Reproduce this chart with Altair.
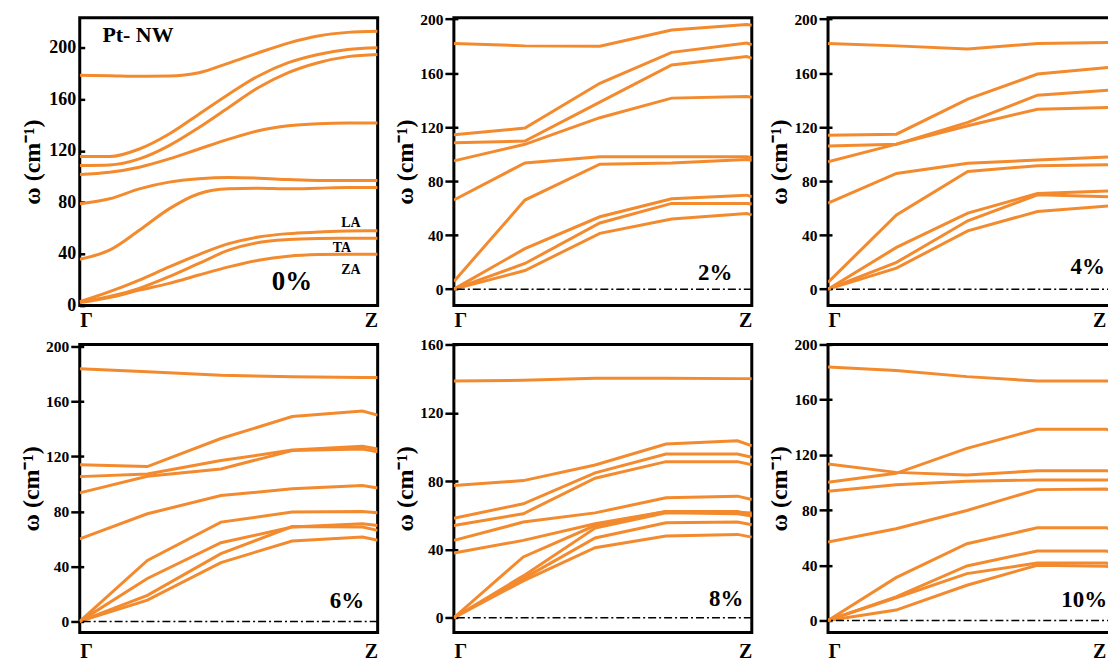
import altair as alt
import pandas as pd

FONT = "Liberation Serif"
ORANGE = "#F38A2E"
YTITLE = "ω (cm⁻¹)"

# ---------------- data ----------------
# 0 % strain: smooth curves, sampled along Γ→Z
X_0 = [0.0, 0.1, 0.2, 0.3, 0.4, 0.5, 0.6, 0.7, 0.8, 0.9, 1.0]
BANDS_0 = [
    [178.5, 178.2, 177.8, 178.0, 180.5, 188.0, 196.0, 203.5, 209.0, 211.8, 212.7],
    [115.5, 115.5, 121.4, 133.0, 148.4, 163.9, 178.0, 188.3, 194.7, 198.6, 199.9],
    [108.6, 109.0, 113.7, 124.0, 138.0, 153.6, 169.0, 180.6, 188.3, 193.0, 194.7],
    [101.6, 103.4, 107.3, 113.7, 121.4, 129.0, 135.6, 139.4, 141.0, 141.5, 141.5],
    [79.0, 82.8, 90.5, 95.7, 98.3, 99.3, 98.8, 97.7, 97.0, 97.0, 97.0],
    [36.0, 43.0, 58.4, 75.0, 86.7, 90.5, 91.0, 90.5, 91.0, 91.6, 91.6],
    [3.0, 10.8, 19.8, 30.0, 39.6, 48.0, 53.2, 55.8, 57.0, 57.9, 58.1],
    [3.0, 7.0, 13.4, 22.4, 32.7, 43.0, 48.9, 51.2, 52.0, 52.2, 52.2],
    [2.3, 6.2, 12.0, 17.2, 23.7, 30.0, 35.2, 38.3, 39.6, 39.9, 39.9],
]

X_2 = [0.0, 0.2385, 0.49, 0.731, 0.983, 1.0]
BANDS_2 = [
    [182.0, 180.2, 180.0, 192.0, 196.0, 195.5],
    [114.4, 119.3, 152.5, 175.4, 182.3, 181.0],
    [108.5, 109.7, 138.5, 166.0, 172.4, 171.0],
    [95.0, 107.3, 127.0, 141.5, 142.7, 142.2],
    [66.0, 93.5, 98.0, 98.0, 98.0, 97.5],
    [5.7, 66.0, 92.5, 93.5, 96.0, 95.5],
    [0.0, 30.0, 53.6, 67.0, 69.6, 68.4],
    [0.0, 19.0, 49.0, 63.5, 63.5, 63.0],
    [0.0, 13.8, 41.3, 52.0, 56.0, 55.0],
]

X_4 = [0.0, 0.2385, 0.487, 0.73, 0.979, 1.0]
BANDS_4 = [
    [182.0, 180.2, 177.8, 182.0, 182.7, 182.2],
    [114.0, 114.8, 140.7, 159.3, 164.2, 162.5],
    [106.0, 107.4, 123.5, 143.7, 147.4, 145.7],
    [94.3, 107.4, 121.0, 133.3, 134.6, 133.8],
    [63.7, 85.7, 93.3, 95.6, 98.0, 97.0],
    [5.0, 55.0, 87.2, 91.4, 92.1, 91.4],
    [0.0, 30.9, 56.3, 70.9, 72.8, 71.0],
    [0.0, 19.8, 50.6, 69.9, 68.4, 66.7],
    [0.0, 15.6, 43.2, 57.5, 61.7, 60.0],
]

X_6 = [0.0, 0.227, 0.474, 0.713, 0.949, 1.0]
BANDS_6 = [
    [183.8, 181.6, 179.0, 178.0, 177.3, 177.3],
    [114.0, 112.6, 133.0, 149.0, 153.0, 150.0],
    [105.3, 107.2, 117.0, 124.6, 127.3, 125.4],
    [93.5, 105.6, 110.9, 124.2, 125.4, 123.4],
    [60.0, 78.3, 91.5, 96.4, 98.8, 97.0],
    [0.0, 44.4, 72.2, 79.5, 80.0, 79.0],
    [0.0, 31.2, 57.2, 68.6, 71.0, 69.8],
    [0.0, 19.0, 49.3, 69.0, 68.6, 66.2],
    [0.0, 15.5, 42.8, 58.5, 61.4, 59.0],
]

X_8 = [0.0, 0.233, 0.474, 0.712, 0.952, 1.0]
BANDS_8 = [
    [138.6, 139.0, 140.2, 140.2, 140.0, 140.0],
    [77.4, 80.3, 89.4, 101.7, 103.6, 100.7],
    [58.3, 66.7, 84.8, 95.9, 95.9, 93.9],
    [54.0, 60.9, 81.7, 91.4, 91.4, 89.6],
    [45.3, 56.0, 61.4, 70.2, 71.2, 69.2],
    [37.9, 45.3, 55.0, 62.2, 62.2, 60.3],
    [0.0, 35.6, 54.0, 62.2, 61.8, 61.4],
    [0.0, 24.5, 52.5, 61.4, 60.9, 59.5],
    [0.0, 22.9, 46.7, 55.6, 56.0, 54.4],
    [0.0, 21.6, 41.0, 47.8, 48.8, 47.2],
]

X_10 = [0.0, 0.237, 0.484, 0.729, 0.97, 1.0]
BANDS_10 = [
    [183.6, 181.2, 176.7, 173.5, 173.5, 173.5],
    [113.4, 107.3, 105.4, 108.5, 108.5, 107.8],
    [100.1, 106.6, 124.7, 138.6, 138.6, 136.2],
    [93.6, 98.4, 100.8, 101.8, 101.8, 101.3],
    [56.8, 66.4, 79.7, 94.8, 95.3, 92.9],
    [0.0, 31.0, 55.6, 67.1, 67.1, 65.2],
    [0.0, 17.0, 39.5, 50.3, 50.3, 48.4],
    [0.0, 16.4, 33.9, 41.6, 41.6, 40.0],
    [0.0, 7.5, 25.5, 40.0, 39.2, 37.5],
]

TICKS_200 = [0, 40, 80, 120, 160, 200]
TICKS_160 = [0, 40, 80, 120, 160]
X_LABELS = ["Γ", "Z"]
X_LABEL_AT = [0, 1]          # Γ and Z
X_LABEL_AT_EDGE = [0, 0.968]  # right-hand panels: Z kept inside the visible page

W, W_EDGE, H = 299, 288, 289


def panel(xv, bands, domain, ticks, w, interp, notes, zero_line,
          lab_size=15.5, tick_size=13, tick_offset=-4, lab_pad=2, title_pad=2,
          x_pad=5, x_label_at=X_LABEL_AT):
    rows = []
    for b, ys in enumerate(bands):
        for k, v in zip(xv, ys):
            rows.append({"k": k, "w": v, "band": b})
    df = pd.DataFrame(rows)
    xs = alt.Scale(domain=[0, 1], nice=False, zero=False)
    ys = alt.Scale(domain=domain, nice=False, zero=False)
    x_axis = alt.Axis(
        values=x_label_at,
        labelExpr=f"datum.value == 0 ? '{X_LABELS[0]}' : '{X_LABELS[1]}'",
        labelFlush=12,
        ticks=False, domain=False, grid=False, title=None,
        labelFont=FONT, labelFontWeight="bold", labelFontSize=20,
        labelColor="black", labelPadding=x_pad,
    )
    y_axis = alt.Axis(
        values=ticks, title=YTITLE, grid=False, domain=False,
        ticks=True, tickSize=tick_size, offset=tick_offset, tickWidth=2.5,
        tickColor="black",
        labelFont=FONT, labelFontWeight="bold", labelFontSize=lab_size,
        labelColor="black", labelPadding=lab_pad,
        titleFont=FONT, titleFontWeight="bold", titleFontSize=24,
        titleColor="black", titlePadding=title_pad,
    )
    X = alt.X("k:Q", scale=xs, axis=x_axis)
    Y = alt.Y("w:Q", scale=ys, axis=y_axis)
    layers = [
        alt.Chart(df).mark_line(
            color=ORANGE, strokeWidth=3, interpolate=interp, clip=True
        ).encode(x=X, y=Y, detail="band:N")
    ]
    if zero_line:
        layers.append(
            alt.Chart(pd.DataFrame({"w": [0]})).mark_rule(
                color="black", strokeWidth=1.5, strokeDash=[8, 3, 2, 3]
            ).encode(y=Y)
        )
    for text, k, v, size, align in notes:
        layers.append(
            alt.Chart(pd.DataFrame({"k": [k], "w": [v], "t": [text]})).mark_text(
                font=FONT, fontWeight="bold", fontSize=size, align=align,
                baseline="alphabetic", color="black",
            ).encode(x=X, y=Y, text="t:N")
        )
    return alt.layer(*layers).properties(width=w, height=H)


p0 = panel(X_0, BANDS_0, [0, 223.2], TICKS_200, W, "monotone",
           [("Pt- NW", 0.076, 204, 22, "left"),
            ("0%", 0.712, 12.4, 27, "center"),
            ("LA", 0.91, 61, 14, "center"),
            ("TA", 0.88, 41.7, 14, "center"),
            ("ZA", 0.91, 24.7, 14, "center")],
           False, lab_size=18, tick_size=5, tick_offset=-5, lab_pad=4,
           title_pad=4)
p2 = panel(X_2, BANDS_2, [-12.2, 201.1], TICKS_200, W, "linear",
           [("2%", 0.877, 6.6, 23, "center")], True)
p4 = panel(X_4, BANDS_4, [-12.2, 201.1], TICKS_200, W_EDGE, "linear",
           [("4%", 0.905, 11, 23, "center")], True,
           x_label_at=X_LABEL_AT_EDGE)
p6 = panel(X_6, BANDS_6, [-8.0, 201.4], TICKS_200, W, "linear",
           [("6%", 0.897, 9.4, 23, "center")], True, x_pad=9)
p8 = panel(X_8, BANDS_8, [-8.6, 160], TICKS_160, W, "linear",
           [("8%", 0.914, 6.6, 23, "center")], True, x_pad=9)
p10 = panel(X_10, BANDS_10, [-8.7, 200], TICKS_200, W_EDGE, "linear",
            [("10%", 0.893, 10, 23, "center")], True, x_pad=9,
            x_label_at=X_LABEL_AT_EDGE)

chart = alt.concat(
    p0, p2, p4, p6, p8, p10,
    columns=3, spacing={"row": 39, "column": 76.5}, bounds="flush",
).configure_view(
    stroke="black", strokeWidth=3
).properties(
    padding={"left": 10, "top": 0.5, "right": -10, "bottom": 0},
    background="white",
)

chart.save("out.html", embed_options={"renderer": "svg", "actions": False})
